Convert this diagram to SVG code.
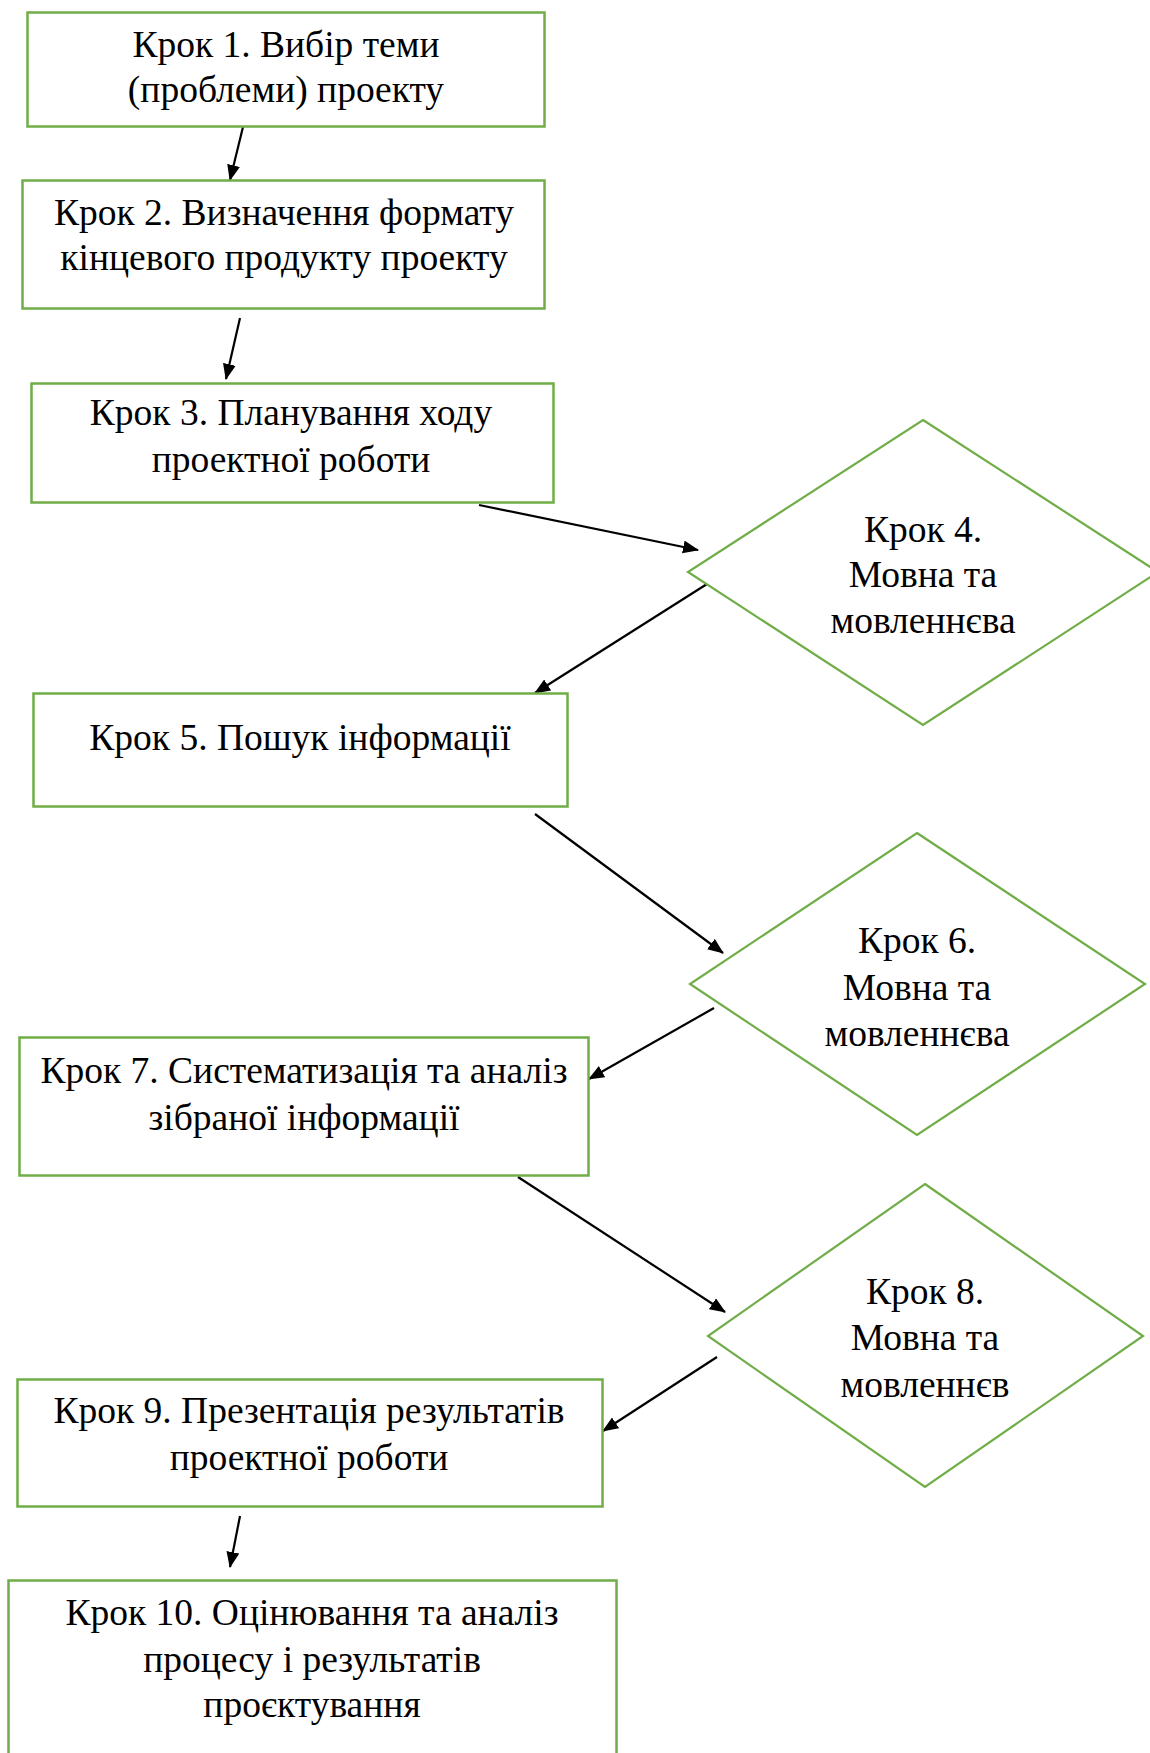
<svg xmlns="http://www.w3.org/2000/svg" width="1150" height="1753" viewBox="0 0 1150 1753">
<defs>
<style>
.box{fill:#fff;stroke:#70AD47;stroke-width:2.5}
.dia{fill:#fff;stroke:#70AD47;stroke-width:2.2}
.t{font-family:"Liberation Serif","Times New Roman",serif;font-size:37.5px;fill:#000;text-anchor:middle}
.c{stroke:#000;stroke-width:2.2;fill:none;marker-end:url(#ah)}
</style>
<marker id="ah" markerUnits="userSpaceOnUse" markerWidth="16" markerHeight="14" refX="15" refY="6.5" orient="auto">
<path d="M0,0 L16,6.5 L0,13 z" fill="#000"/>
</marker>
</defs>
<rect width="1150" height="1753" fill="#fff"/>
<g id="connectors">
<line class="c" x1="243" y1="127" x2="230" y2="180"/>
<line class="c" x1="240" y1="318" x2="226" y2="379"/>
<line class="c" x1="479" y1="505" x2="698" y2="550"/>
<line class="c" x1="707" y1="584" x2="535" y2="693"/>
<line class="c" x1="535" y1="814" x2="723" y2="953"/>
<line class="c" x1="714" y1="1008" x2="589" y2="1079"/>
<line class="c" x1="518" y1="1177" x2="725" y2="1312"/>
<line class="c" x1="717" y1="1357" x2="603" y2="1431"/>
<line class="c" x1="240" y1="1516" x2="230" y2="1567"/>
</g>
<g id="step1">
<rect class="box" x="27.5" y="12.5" width="517" height="114"/>
<text class="t" x="286" y="57">Крок 1. Вибір теми</text>
<text class="t" x="286" y="102">(проблеми) проекту</text>
</g>
<g id="step2">
<rect class="box" x="22.5" y="180.5" width="522" height="128"/>
<text class="t" x="284" y="225">Крок 2. Визначення формату</text>
<text class="t" x="284" y="270">кінцевого продукту проекту</text>
</g>
<g id="step3">
<rect class="box" x="31.5" y="383.5" width="522" height="119"/>
<text class="t" x="291" y="425">Крок 3. Планування ходу</text>
<text class="t" x="291" y="472">проектної роботи</text>
</g>
<g id="step4">
<polygon class="dia" points="923,420 1158,572 923,725 688,572"/>
<text class="t" x="923" y="542">Крок 4.</text>
<text class="t" x="923" y="587">Мовна та</text>
<text class="t" x="923" y="633">мовленнєва</text>
</g>
<g id="step5">
<rect class="box" x="33.5" y="693.5" width="534" height="113"/>
<text class="t" x="300" y="750">Крок 5. Пошук інформації</text>
</g>
<g id="step6">
<polygon class="dia" points="917,833 1145,984 917,1135 690,984"/>
<text class="t" x="917" y="953">Крок 6.</text>
<text class="t" x="917" y="1000">Мовна та</text>
<text class="t" x="917" y="1046">мовленнєва</text>
</g>
<g id="step7">
<rect class="box" x="19.5" y="1037.5" width="569" height="138"/>
<text class="t" x="304" y="1083">Крок 7. Систематизація та аналіз</text>
<text class="t" x="304" y="1130">зібраної інформації</text>
</g>
<g id="step8">
<polygon class="dia" points="925,1184 1143,1336 925,1487 708,1336"/>
<text class="t" x="925" y="1304">Крок 8.</text>
<text class="t" x="925" y="1350">Мовна та</text>
<text class="t" x="925" y="1397">мовленнєв</text>
</g>
<g id="step9">
<rect class="box" x="17.5" y="1379.5" width="585" height="127"/>
<text class="t" x="309" y="1423">Крок 9. Презентація результатів</text>
<text class="t" x="309" y="1470">проектної роботи</text>
</g>
<g id="step10">
<rect class="box" x="8.5" y="1580.5" width="608" height="200"/>
<text class="t" x="312" y="1625">Крок 10. Оцінювання та аналіз</text>
<text class="t" x="312" y="1672">процесу і результатів</text>
<text class="t" x="312" y="1717">проєктування</text>
</g>
</svg>
